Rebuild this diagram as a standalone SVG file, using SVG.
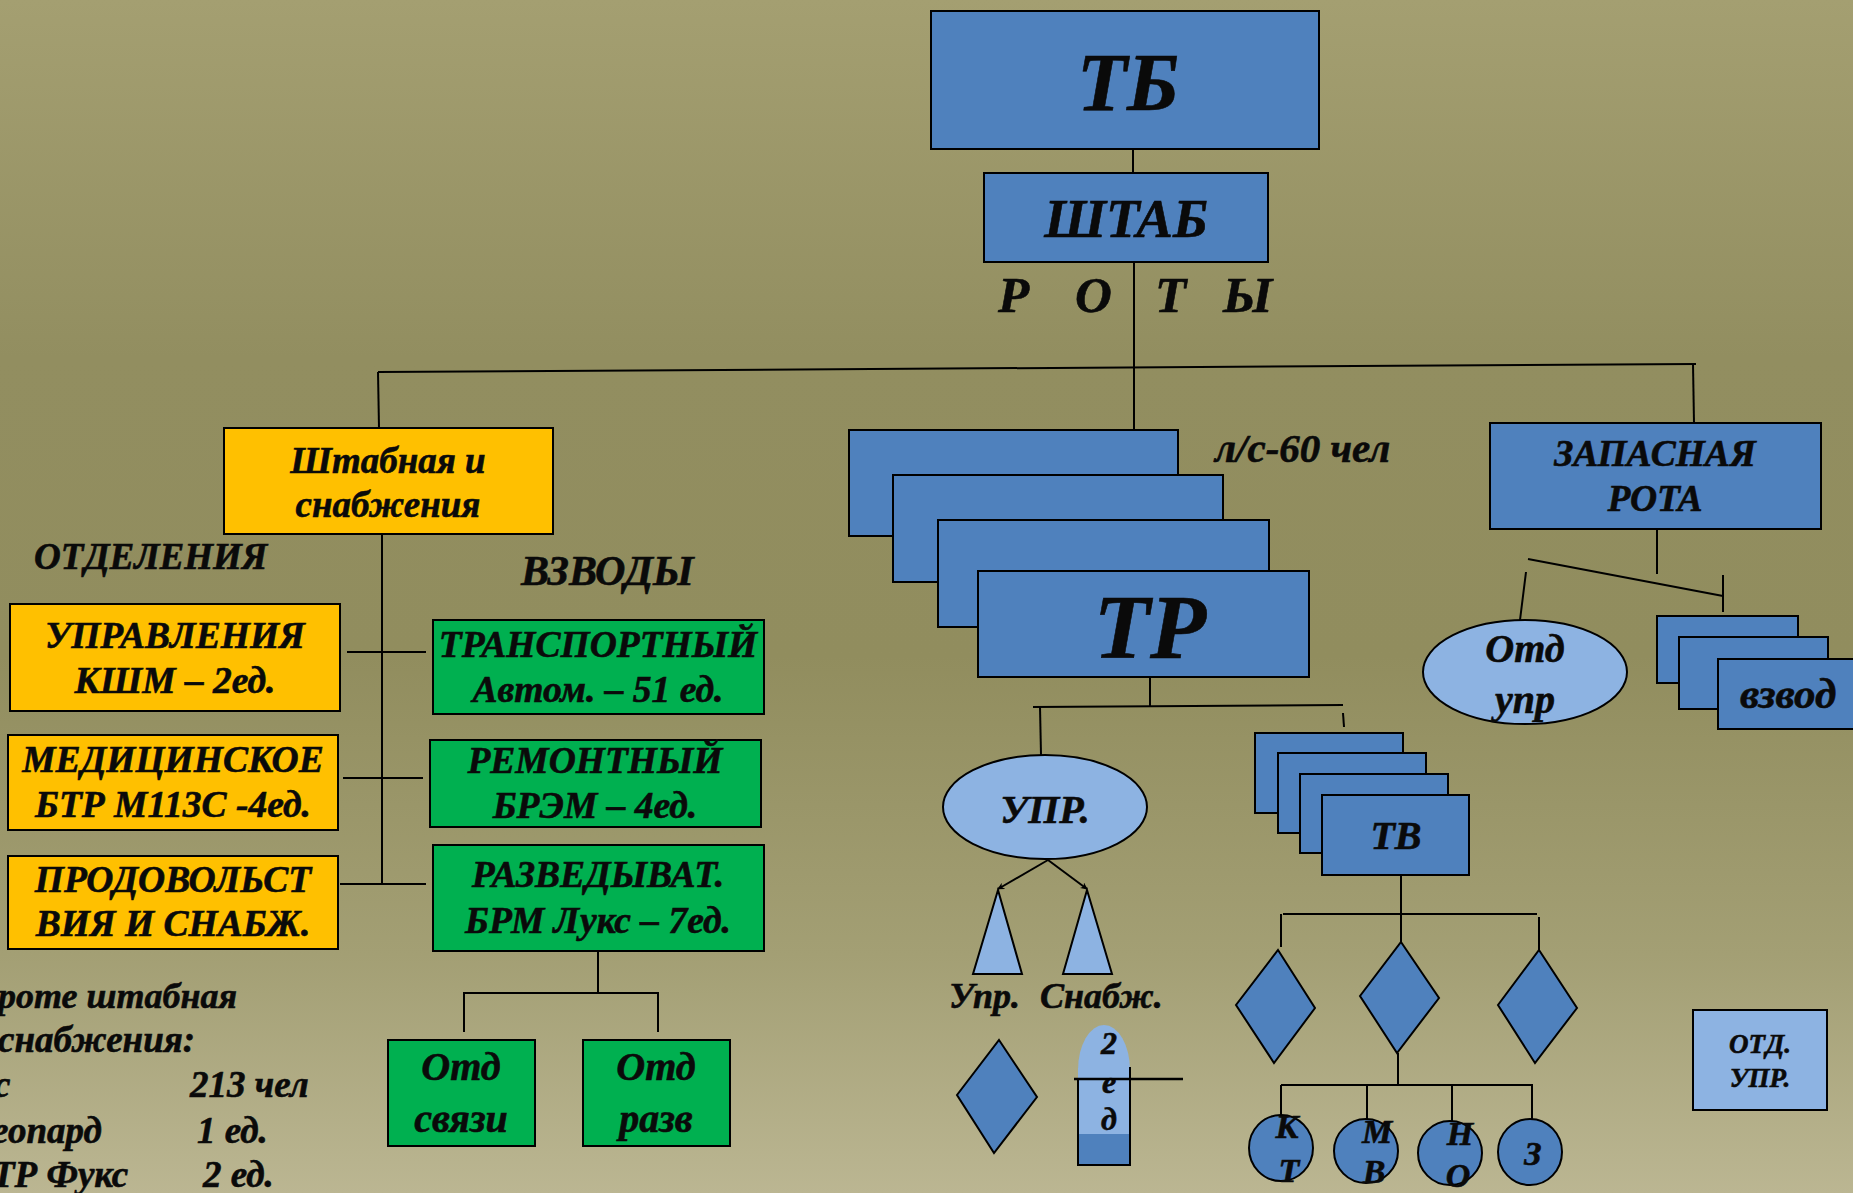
<svg xmlns="http://www.w3.org/2000/svg" width="1853" height="1193" viewBox="0 0 1853 1193">
<defs>
<linearGradient id="bg" x1="0" y1="0" x2="0" y2="1">
<stop offset="0" stop-color="#A49F71"/>
<stop offset="0.3" stop-color="#928E60"/>
<stop offset="0.55" stop-color="#918D5E"/>
<stop offset="0.8" stop-color="#A39F74"/>
<stop offset="1" stop-color="#BBB692"/>
</linearGradient>
<marker id="arr" viewBox="0 0 10 10" refX="9" refY="5" markerWidth="7" markerHeight="7" orient="auto" markerUnits="userSpaceOnUse">
<path d="M0,0 L10,5 L0,10 L3,5 Z" fill="#000"/>
</marker>
<style>
.t{font-family:"Liberation Serif","Times New Roman",serif;font-weight:bold;font-style:italic;fill:#0a0a0a;stroke:#0a0a0a;stroke-width:0.6}
.c{text-anchor:middle}
.blue{fill:#4F81BD;stroke:#000;stroke-width:2}
.lb{fill:#8DB3E2;stroke:#000;stroke-width:2}
.yel{fill:#FFC000;stroke:#000;stroke-width:2}
.grn{fill:#00B050;stroke:#000;stroke-width:2}
.ln{stroke:#000;stroke-width:2;fill:none}
</style>
</defs>
<rect width="1853" height="1193" fill="url(#bg)"/>

<g id="tb"><rect class="blue" x="931" y="11" width="388" height="138"/><text class="t c" x="1128" y="110" font-size="82">ТБ</text></g>
<g id="shtab"><rect class="blue" x="984" y="173" width="284" height="89"/><text class="t c" x="1126" y="237" font-size="55">ШТАБ</text></g>
<text class="t" font-size="51" y="312"><tspan x="998">Р</tspan> <tspan x="1075">О</tspan> <tspan x="1155">Т</tspan> <tspan x="1223">Ы</tspan></text>

<g id="shtabnaya"><rect class="yel" x="224" y="428" width="329" height="106"/><text class="t c" font-size="37" x="388" y="473">Штабная и</text><text class="t c" font-size="37" x="388" y="517">снабжения</text></g>
<text class="t" font-size="37" x="34" y="569">ОТДЕЛЕНИЯ</text>
<text class="t" font-size="42" x="521" y="585">ВЗВОДЫ</text>

<g id="upravl"><rect class="yel" x="10" y="604" width="330" height="107"/><text class="t c" font-size="37.5" x="175" y="648">УПРАВЛЕНИЯ</text><text class="t c" font-size="37.5" x="175" y="693">КШМ – 2ед.</text></g>
<g id="medic"><rect class="yel" x="8" y="735" width="330" height="95"/><text class="t c" font-size="37.5" x="173" y="772">МЕДИЦИНСКОЕ</text><text class="t c" font-size="37.5" x="173" y="817">БТР М113С -4ед.</text></g>
<g id="prod"><rect class="yel" x="8" y="856" width="330" height="93"/><text class="t c" font-size="37.5" x="173" y="892">ПРОДОВОЛЬСТ</text><text class="t c" font-size="37.5" x="173" y="936">ВИЯ И СНАБЖ.</text></g>

<g id="transp"><rect class="grn" x="433" y="620" width="331" height="94"/><text class="t c" font-size="37.5" x="598" y="657">ТРАНСПОРТНЫЙ</text><text class="t c" font-size="37.5" x="598" y="702">Автом. – 51 ед.</text></g>
<g id="remont"><rect class="grn" x="430" y="740" width="331" height="87"/><text class="t c" font-size="37.5" x="595" y="773">РЕМОНТНЫЙ</text><text class="t c" font-size="37.5" x="595" y="818">БРЭМ – 4ед.</text></g>
<g id="razved"><rect class="grn" x="433" y="845" width="331" height="106"/><text class="t c" font-size="37.5" x="598" y="887">РАЗВЕДЫВАТ.</text><text class="t c" font-size="37.5" x="598" y="933">БРМ Лукс – 7ед.</text></g>
<g id="otdsv"><rect class="grn" x="388" y="1040" width="147" height="106"/><text class="t c" font-size="40" x="461" y="1080">Отд</text><text class="t c" font-size="40" x="461" y="1132">связи</text></g>
<g id="otdrazv"><rect class="grn" x="583" y="1040" width="147" height="106"/><text class="t c" font-size="40" x="656" y="1080">Отд</text><text class="t c" font-size="40" x="656" y="1132">разв</text></g>

<g id="summary">
<text class="t" font-size="36" x="-2" y="1008">роте штабная</text>
<text class="t" font-size="37" x="-2" y="1052">снабжения:</text>
<text class="t" font-size="37" x="-6" y="1097">с</text>
<text class="t" font-size="37" x="190" y="1097">213 чел</text>
<text class="t" font-size="37" x="-8" y="1143">еопард</text>
<text class="t" font-size="37" x="197" y="1143">1 ед.</text>
<text class="t" font-size="37" x="-8" y="1187">ТР Фукс</text>
<text class="t" font-size="37" x="203" y="1187">2 ед.</text>
</g>

<g id="tr">
<rect class="blue" x="849" y="430" width="329" height="106"/>
<rect class="blue" x="893" y="475" width="330" height="107"/>
<rect class="blue" x="938" y="520" width="331" height="107"/>
<rect class="blue" x="978" y="571" width="331" height="106"/>
<text class="t c" font-size="92" x="1150" y="658">ТР</text>
</g>
<text class="t" font-size="41" x="1215" y="462">л/с-60 чел</text>

<g id="zapas"><rect class="blue" x="1490" y="423" width="331" height="106"/><text class="t c" font-size="37.5" x="1655" y="466">ЗАПАСНАЯ</text><text class="t c" font-size="37.5" x="1655" y="511">РОТА</text></g>
<g id="otdupr"><ellipse class="lb" cx="1525" cy="672" rx="102" ry="52"/><text class="t c" font-size="40" x="1525" y="662">Отд</text><text class="t c" font-size="40" x="1525" y="713">упр</text></g>
<g id="vzvod">
<rect class="blue" x="1657" y="616" width="141" height="67"/>
<rect class="blue" x="1679" y="637" width="149" height="72"/>
<rect class="blue" x="1718" y="659" width="150" height="70"/>
<text class="t" font-size="43" x="1740" y="708">взвод</text>
</g>

<g id="upr"><ellipse class="lb" cx="1045" cy="807" rx="102" ry="52"/><text class="t c" font-size="40" x="1045" y="823">УПР.</text></g>
<g id="tri-upr"><polygon class="lb" points="998,890 1022,974 973,974"/><text class="t" font-size="36" x="949" y="1008">Упр.</text></g>
<g id="tri-snab"><polygon class="lb" points="1087,890 1112,974 1063,974"/><text class="t" font-size="36" x="1040" y="1008">Снабж.</text></g>
<g id="diam-l"><polygon class="blue" points="999,1040 1037,1097 994,1153 957,1095"/></g>
<g id="bullet">
<path d="M1078,1070 A26,45 0 0 1 1130,1070 Z" fill="#8DB3E2"/>
<rect x="1078" y="1068" width="52" height="66" fill="#8DB3E2"/>
<rect x="1078" y="1134" width="52" height="31" fill="#4F81BD"/>
<path class="ln" d="M1130,1067 L1130,1165 L1078,1165 L1078,1078"/>
<text class="t c" font-size="32" x="1109" y="1054">2</text>
<text class="t c" font-size="32" x="1109" y="1093">е</text>
<text class="t c" font-size="32" x="1109" y="1130">д</text>
</g>

<g id="tv">
<rect class="blue" x="1255" y="733" width="148" height="80"/>
<rect class="blue" x="1278" y="753" width="148" height="80"/>
<rect class="blue" x="1300" y="774" width="148" height="79"/>
<rect class="blue" x="1322" y="795" width="147" height="80"/>
<text class="t c" font-size="40" x="1396" y="849">ТВ</text>
</g>
<g id="d1"><polygon class="blue" points="1278,950 1315,1008 1274,1063 1236,1005"/></g>
<g id="d2"><polygon class="blue" points="1401,942 1439,998 1397,1053 1360,996"/></g>
<g id="d3"><polygon class="blue" points="1539,950 1577,1008 1535,1063 1498,1005"/></g>
<g id="c1"><ellipse class="blue" cx="1281" cy="1148" rx="32" ry="33"/><text class="t c" font-size="34" x="1287" y="1138">К</text><text class="t c" font-size="34" x="1289" y="1182">Т</text></g>
<g id="c2"><ellipse class="blue" cx="1366" cy="1151" rx="32" ry="32"/><text class="t c" font-size="34" x="1377" y="1143">М</text><text class="t c" font-size="34" x="1374" y="1183">В</text></g>
<g id="c3"><ellipse class="blue" cx="1450" cy="1153" rx="32" ry="32"/><text class="t c" font-size="34" x="1460" y="1145">Н</text><text class="t c" font-size="34" x="1458" y="1187">О</text></g>
<g id="c4"><ellipse class="blue" cx="1530" cy="1152" rx="32" ry="33"/><text class="t c" font-size="34" x="1533" y="1165">З</text></g>
<g id="otdupr2"><rect class="lb" x="1693" y="1010" width="134" height="100"/><text class="t c" font-size="27" x="1760" y="1053">ОТД.</text><text class="t c" font-size="27" x="1760" y="1087">УПР.</text></g>

<g id="connectors" class="ln">
<line x1="1133" y1="149" x2="1133" y2="173"/>
<line x1="1134" y1="262" x2="1134" y2="430"/>
<line x1="378" y1="372" x2="1696" y2="364"/>
<line x1="378" y1="372" x2="379" y2="428"/>
<line x1="1693" y1="364" x2="1694" y2="423"/>
<line x1="382" y1="534" x2="382" y2="884"/>
<line x1="347" y1="652" x2="426" y2="652"/>
<line x1="343" y1="778" x2="423" y2="778"/>
<line x1="340" y1="884" x2="426" y2="884"/>
<line x1="598" y1="951" x2="598" y2="993"/>
<polyline points="464,1032 464,993 658,993 658,1032"/>
<line x1="1150" y1="677" x2="1150" y2="706"/>
<line x1="1033" y1="707" x2="1343" y2="705"/>
<line x1="1040" y1="707" x2="1041" y2="755"/>
<line x1="1343" y1="713" x2="1344" y2="727"/>
<line x1="1048" y1="860" x2="998" y2="889" marker-end="url(#arr)"/>
<line x1="1048" y1="860" x2="1087" y2="889" marker-end="url(#arr)"/>
<line x1="1074" y1="1079" x2="1183" y2="1079" stroke-width="2.5"/>
<line x1="1657" y1="529" x2="1657" y2="574"/>
<line x1="1528" y1="559" x2="1723" y2="596"/>
<line x1="1723" y1="575" x2="1723" y2="612"/>
<line x1="1526" y1="572" x2="1520" y2="620"/>
<line x1="1401" y1="875" x2="1401" y2="942"/>
<line x1="1283" y1="914" x2="1537" y2="914"/>
<line x1="1281" y1="914" x2="1281" y2="947"/>
<line x1="1539" y1="917" x2="1539" y2="950"/>
<line x1="1398" y1="1053" x2="1398" y2="1085"/>
<line x1="1281" y1="1085" x2="1533" y2="1085"/>
<line x1="1281" y1="1085" x2="1281" y2="1115"/>
<line x1="1367" y1="1085" x2="1367" y2="1119"/>
<line x1="1452" y1="1085" x2="1452" y2="1121"/>
<line x1="1532" y1="1085" x2="1532" y2="1119"/>
</g>
</svg>
